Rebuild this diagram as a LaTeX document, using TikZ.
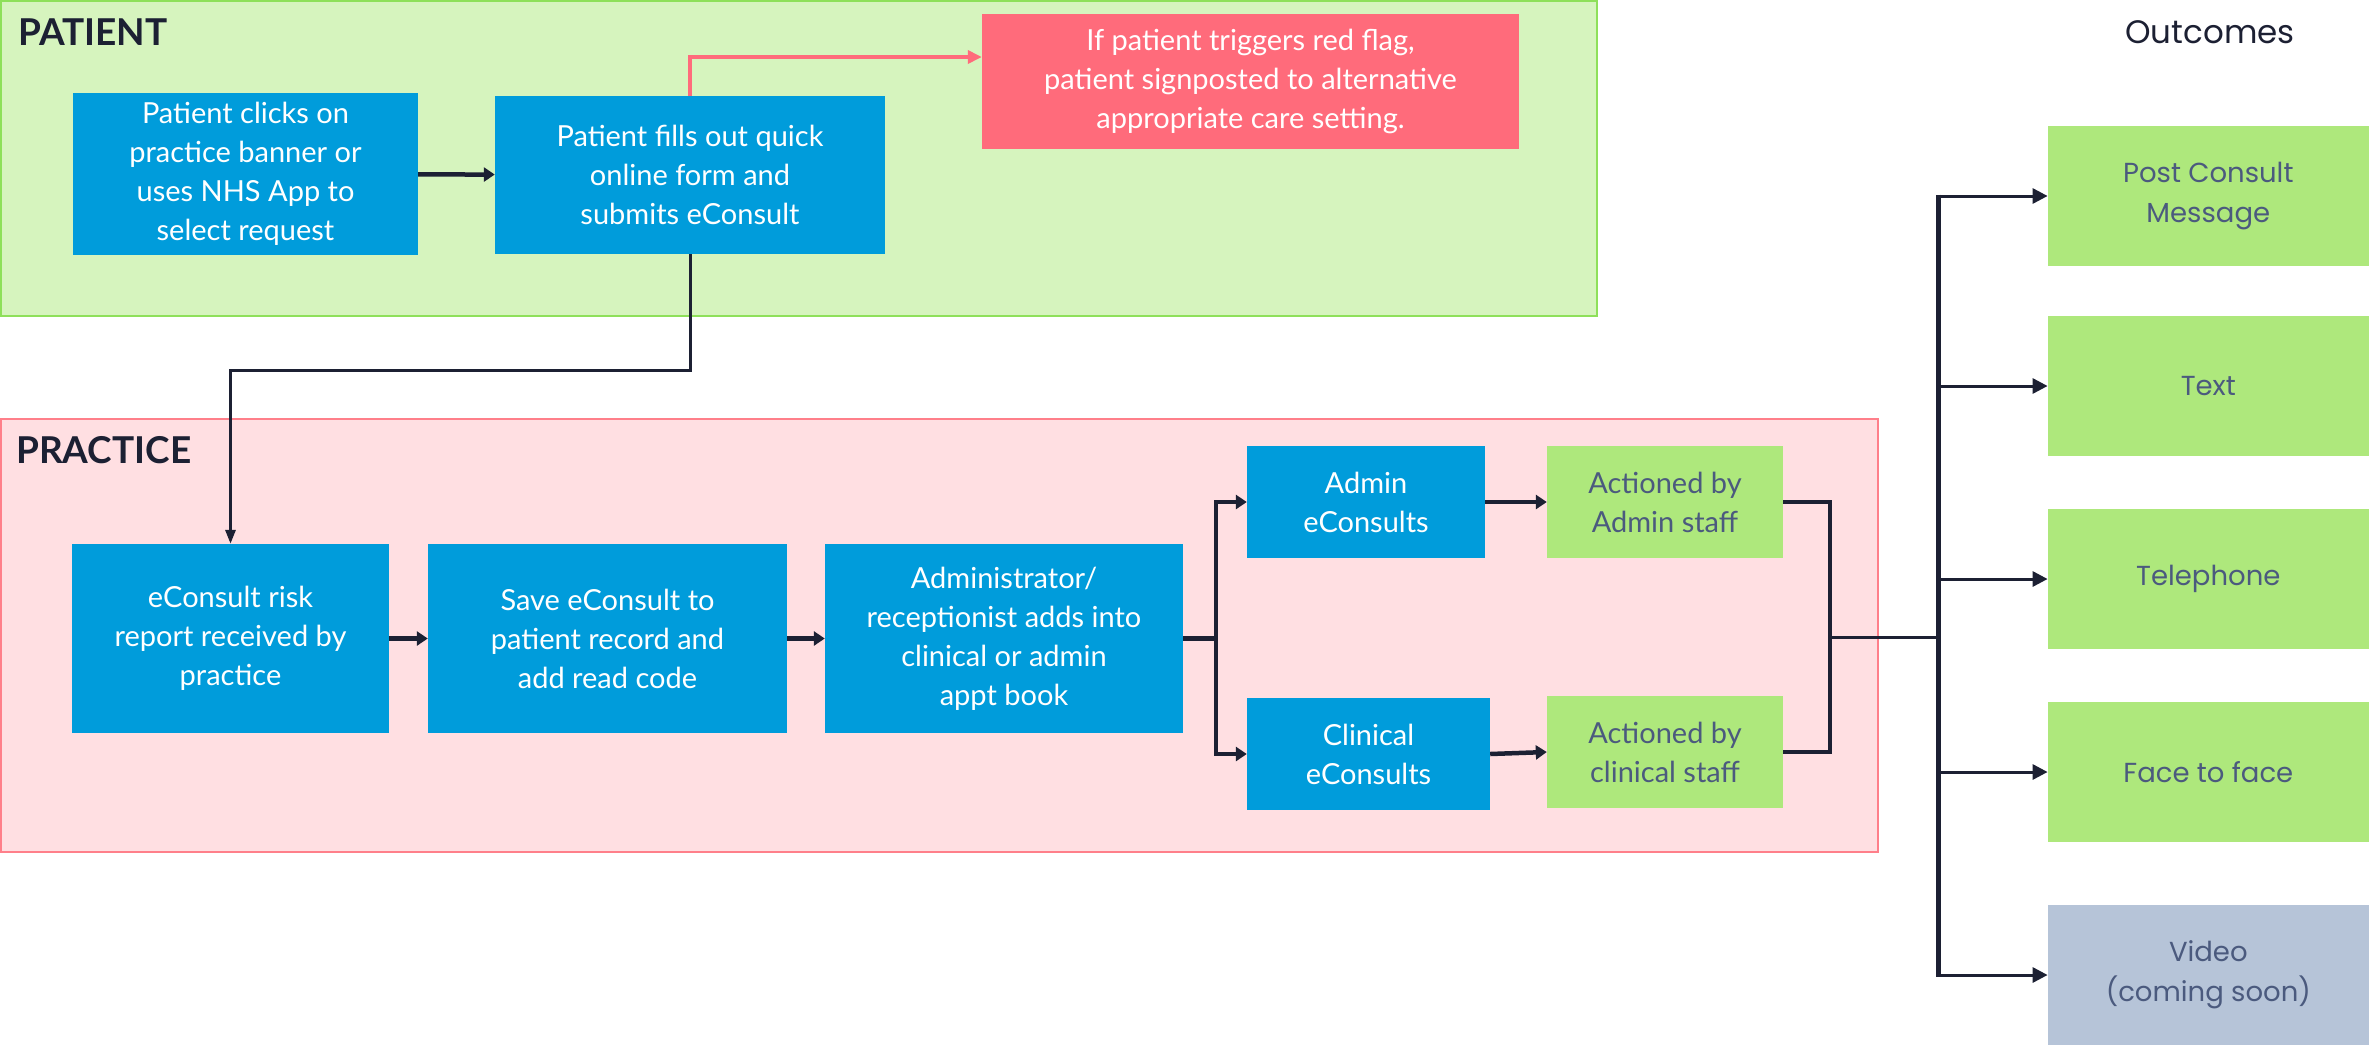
\documentclass[tikz,border=0pt]{standalone}
\usepackage{fontspec}
\setmainfont{Lato}
\newfontfamily\outfont{Poppins}
\usetikzlibrary{arrows.meta}
\definecolor{patfill}{HTML}{D6F4BE}
\definecolor{patline}{HTML}{8EE05A}
\definecolor{prafill}{HTML}{FFDFE2}
\definecolor{praline}{HTML}{FF7F8A}
\definecolor{boxblue}{HTML}{009CDB}
\definecolor{boxred}{HTML}{FF6B7B}
\definecolor{boxgreen}{HTML}{AEE87C}
\definecolor{boxgrey}{HTML}{B6C4D8}
\definecolor{ink}{HTML}{1C2033}
\definecolor{greytext}{HTML}{4B5A7E}
\tikzset{
  region/.style={rectangle, inner sep=0pt, line width=2pt},
  bluebox/.style={rectangle, fill=boxblue, inner sep=0pt, text=white, align=center,
    font=\fontsize{29}{39}\selectfont},
  redbox/.style={rectangle, fill=boxred, inner sep=0pt, text=white, align=center,
    font=\fontsize{29}{39}\selectfont},
  actbox/.style={rectangle, fill=boxgreen, inner sep=0pt, text=greytext, align=center,
    font=\fontsize{29}{39}\selectfont},
  outbox/.style={rectangle, fill=boxgreen, inner sep=0pt, text=greytext, align=center,
    minimum width=321pt, minimum height=140pt, font=\outfont\fontsize{27.5}{40}\selectfont},
  heading/.style={anchor=west, inner sep=0pt, text=ink, font=\bfseries\fontsize{37}{42}\selectfont},
  thickarrow/.style={draw=ink, line width=4.5pt, -{Triangle[length=11pt,width=14pt]}},
  thinarrow/.style={draw=ink, line width=3pt, -{Triangle[length=15pt,width=15pt]}},
  thickline/.style={draw=ink, line width=4.5pt},
  thinline/.style={draw=ink, line width=3pt},
}
\begin{document}
\begin{tikzpicture}[x=1pt,y=-1pt]
\useasboundingbox (0,0) rectangle (2369,1045);
\fill[white] (0,0) rectangle (2369,1045);
% regions
\node[region, fill=patfill, draw=patline, minimum width=1596pt, minimum height=315pt, anchor=north west] (patreg) at (0,0) {};
\node[region, fill=prafill, draw=praline, minimum width=1877pt, minimum height=433pt, anchor=north west] (prareg) at (0,418) {};
\node[heading] (patlabel) at (18,32) {PATIENT};
\node[heading] (pralabel) at (16,450) {PRACTICE};
% patient boxes
\node[bluebox, minimum width=345pt, minimum height=162pt] (A) at (245.5,174) {Patient clicks on\\practice banner or\\uses NHS App to\\select request};
\node[bluebox, minimum width=390pt, minimum height=158pt] (B) at (690,175) {Patient fills out quick\\online form and\\submits eConsult};
\node[redbox, minimum width=537pt, minimum height=135pt] (R) at (1250.5,81.5) {If patient triggers red flag,\\patient signposted to alternative\\appropriate care setting.};
% practice boxes
\node[bluebox, minimum width=317pt, minimum height=189pt] (C) at (230.5,638.5) {eConsult risk\\report received by\\practice};
\node[bluebox, minimum width=359pt, minimum height=189pt] (D) at (607.5,638.5) {Save eConsult to\\patient record and\\add read code};
\node[bluebox, minimum width=358pt, minimum height=189pt] (E) at (1004,638.5) {Administrator/\\receptionist adds into\\clinical or admin\\appt book};
\node[bluebox, minimum width=238pt, minimum height=112pt] (AdE) at (1366,502) {Admin\\eConsults};
\node[bluebox, minimum width=243pt, minimum height=112pt] (ClE) at (1368.5,754) {Clinical\\eConsults};
\node[actbox, minimum width=236pt, minimum height=112pt] (ActA) at (1665,502) {Actioned by\\Admin staff};
\node[actbox, minimum width=236pt, minimum height=112pt] (ActC) at (1665,752) {Actioned by\\clinical staff};
% outcomes
\node[inner sep=0pt, text=ink, font=\outfont\fontsize{32.5}{40}\selectfont] (outt) at (2210,32) {Outcomes};
\node[outbox, anchor=east] (O1) at (2369,196) {Post Consult\\Message};
\node[outbox, anchor=east] (O2) at (2369,386) {Text};
\node[outbox, anchor=east] (O3) at (2369,579) {Telephone};
\node[outbox, anchor=east] (O4) at (2369,772) {Face to face};
\node[outbox, anchor=east, fill=boxgrey, text=greytext] (O5) at (2369,975) {Video\\(coming soon)};
% coordinates
\coordinate (fork) at (1216,638.5);
\coordinate (merge) at (1830,637);
\coordinate (trunk) at (1938,637);
\coordinate (ttop) at (1938,196);
\coordinate (tbot) at (1938,975);
% connectors
\draw[thickarrow] (A) -- (B);
\draw[draw=boxred, line width=4pt, -{Triangle[length=14pt,width=13pt]}] (B.north) |- ([yshift=24.5pt]R.west);
\draw[thinarrow, -{Triangle[length=14pt,width=10pt]}] (B.south) -- ++(0,116) -| (C.north);
\draw[thickarrow] (C) -- (D);
\draw[thickarrow] (D) -- (E);
\draw[thickline] (E.east) -- (fork);
\draw[draw=ink, line width=3.5pt, -{Triangle[length=11pt,width=14pt]}] (fork) |- (AdE.west);
\draw[draw=ink, line width=3.5pt, -{Triangle[length=11pt,width=14pt]}] (fork) |- (ClE.west);
\draw[thickarrow] (AdE) -- (ActA);
\draw[thickarrow] (ClE.east) -- (ActC.west);
\draw[thickline] (ActA.east) -| (merge);
\draw[thickline] (ActC.east) -| (merge);
\draw[thinline] (merge) -- (trunk);
\draw[draw=ink, line width=5pt] ([yshift=1.5pt]ttop) -- ([yshift=-1.5pt]tbot);
\draw[thinarrow] (ttop) -- (O1.west);
\draw[thinarrow] (O2.west -| trunk) -- (O2.west);
\draw[thinarrow] (O3.west -| trunk) -- (O3.west);
\draw[thinarrow] (O4.west -| trunk) -- (O4.west);
\draw[thinarrow] (tbot) -- (O5.west);
\end{tikzpicture}
\end{document}
